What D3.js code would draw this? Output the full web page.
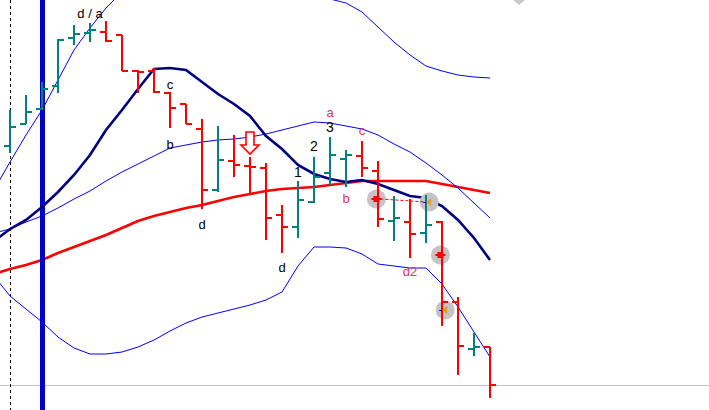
<!DOCTYPE html>
<html><head><meta charset="utf-8">
<script src="https://cdn.jsdelivr.net/npm/d3@7"></script>
<style>html,body{margin:0;padding:0;background:#fff;overflow:hidden}svg{display:block}</style>
</head><body>
<svg id="chart" width="709" height="410"></svg>
<script>
// ---- bar data (index 0..30) ----
const barIndex = d3.range(0, 31);
const opens  = [126.4,128.6,130.1,132.4,137.2,137.7,137.8,137.5,133.9,133.9,131.7,130.6,128.1,122.0,124.9,124.4,124.2,119.5,118.3,120.8,123.7,125.1,125.4,123.9,118.9,118.8,117.7,118.8,110.8,106.1,106.3];
const highs  = [130.0,131.5,132.8,137.1,138.5,138.7,138.9,137.5,134.0,134.2,131.8,130.6,129.1,128.4,127.5,125.3,124.7,120.5,122.9,125.3,127.3,126.0,126.9,124.9,121.4,121.1,121.5,118.9,111.3,107.7,106.3];
const lows   = [125.7,128.6,130.0,131.7,136.5,136.8,136.8,133.9,131.7,131.7,128.2,128.6,120.1,121.8,123.3,121.5,117.0,115.7,117.2,120.7,122.5,122.3,123.3,118.3,116.9,115.2,116.7,108.4,103.5,105.4,101.2];
const closes = [128.3,129.8,132.1,137.0,137.6,138.0,136.9,133.9,133.8,131.8,130.2,128.6,122.0,125.0,124.5,124.3,119.2,118.3,121.0,123.3,125.5,125.5,124.2,119.1,119.2,117.6,118.5,110.8,106.4,106.3,102.5];

// ---- indicator lines (index -1..30) ----
const lineIndex = d3.range(-1, 31);
const fastMA  = [116.9,118.1,119.0,120.3,121.8,123.5,125.5,128.0,130.0,132.1,134.1,134.2,134.0,132.8,131.6,130.6,129.4,127.4,126.1,124.5,123.6,123.1,122.8,123.0,122.6,122.0,121.4,121.2,120.4,119.0,117.2,115.0];
const slowMA  = [113.6,114.1,114.5,115.0,115.7,116.3,116.9,117.5,118.2,118.9,119.4,119.8,120.2,120.5,120.9,121.3,121.6,121.9,122.1,122.2,122.3,122.5,122.7,122.9,122.9,122.9,122.9,122.9,122.6,122.3,122.0,121.7];
const bandMid = [117.7,118.1,118.8,119.4,120.2,121.1,121.9,122.9,123.8,124.6,125.4,126.2,126.5,126.8,127.0,127.1,127.3,127.6,128.0,128.4,128.8,128.7,128.4,128.1,127.5,126.6,125.8,124.7,123.5,122.2,120.7,119.2];
const bandUp  = [122.0,124.8,127.5,130.0,133.0,136.0,138.2,140.2,141.8,143.0,143.8,144.5,144.3,144.3,144.3,144.1,144.1,144.2,144.4,142.2,141.3,141.1,140.7,139.8,138.3,136.8,135.5,134.4,133.9,133.5,133.3,133.2];
const bandLow = [113.4,111.4,110.1,108.8,107.3,106.2,105.6,105.6,105.8,106.3,107.0,107.9,108.7,109.3,109.7,110.1,110.5,111.0,111.8,114.4,116.3,116.3,116.2,115.6,114.6,114.4,114.2,114.2,112.6,110.3,107.8,105.3];

// ---- annotations ----
const labelText  = ["d / a","c","b","d","d","1","2","3","a","c","b","d2"];
const labelIdx   = [5,10,10,12,17,18,19,20,20,22,21,25];
const labelPrice = [139.2,132.1,126.1,118.1,113.8,123.3,125.9,127.8,129.3,127.5,120.7,113.4];
const labelPink  = [false,false,false,false,false,false,false,false,true,true,true,true];
const levelPrices = [102.5];
const markerIdx   = [22.9,26.2,26.9,27.2];
const markerPrice = [121.1,120.8,115.5,110.0];
const markerKind  = ["cross","tri","cross","tri"];

const svg = d3.select("#chart");
const W = 709, H = 410;
const x = d3.scaleLinear().domain([0, 30]).range([10, 490]);
const y = d3.scaleLinear().domain([100, 141]).range([H, 0]);

const teal = "#008080", red = "#ff0000", pink = "#e8305c";

// grey level line
svg.selectAll(".lvl").data(levelPrices).join("line")
  .attr("x1", 0).attr("x2", W).attr("y1", d => Math.round(y(d)) + 0.5).attr("y2", d => Math.round(y(d)) + 0.5)
  .attr("stroke", "#c0c0c0").attr("stroke-width", 1);

// dashed vertical at first bar
svg.append("line").attr("x1", x(0) + 0.5).attr("x2", x(0) + 0.5).attr("y1", 0).attr("y2", H)
  .attr("stroke", "#000").attr("stroke-width", 1).attr("stroke-dasharray", "3,3");

const line = arr => d3.line().x((d, i) => x(lineIndex[i])).y(d => y(d))(arr);

// slow MA (red)
svg.append("path").attr("d", line(slowMA)).attr("fill", "none").attr("stroke", red).attr("stroke-width", 2.6);

// thick blue vertical
svg.append("line").attr("x1", x(2) + 0.5).attr("x2", x(2) + 0.5).attr("y1", 0).attr("y2", H)
  .attr("stroke", "#0000cc").attr("stroke-width", 5);

// bands
[bandUp, bandMid, bandLow].forEach(b => {
  svg.append("path").attr("d", line(b)).attr("fill", "none").attr("stroke", "#0000ff").attr("stroke-width", 1);
});

// fast MA (navy)
svg.append("path").attr("d", line(fastMA)).attr("fill", "none").attr("stroke", "#000080").attr("stroke-width", 2.6);

// gray circles
svg.selectAll(".mk").data(markerIdx).join("circle")
  .attr("cx", d => x(d)).attr("cy", (d, i) => y(markerPrice[i])).attr("r", 9.5).attr("fill", "#c4c4c4");

// dashed red connector between first two markers
svg.append("line").attr("x1", x(markerIdx[0]) + 4).attr("y1", y(markerPrice[0]))
  .attr("x2", x(markerIdx[1]) - 3).attr("y2", y(markerPrice[1]))
  .attr("stroke", red).attr("stroke-width", 1).attr("stroke-dasharray", "3,2");

// OHLC bars
const bars = svg.append("g");
barIndex.forEach(i => {
  const c = closes[i] >= opens[i] ? teal : red;
  const cx = x(i);
  bars.append("line").attr("x1", cx).attr("x2", cx).attr("y1", y(highs[i])).attr("y2", y(lows[i]))
    .attr("stroke", c).attr("stroke-width", 2);
  bars.append("line").attr("x1", cx - 6).attr("x2", cx).attr("y1", Math.round(y(opens[i]))).attr("y2", Math.round(y(opens[i])))
    .attr("stroke", c).attr("stroke-width", 2);
  bars.append("line").attr("x1", cx).attr("x2", cx + 6).attr("y1", Math.round(y(closes[i]))).attr("y2", Math.round(y(closes[i])))
    .attr("stroke", c).attr("stroke-width", 2);
});

// marker glyphs
markerIdx.forEach((m, i) => {
  const cx = x(m), cy = y(markerPrice[i]);
  if (markerKind[i] === "cross") {
    svg.append("rect").attr("x", cx - 3).attr("y", cy - 3).attr("width", 6).attr("height", 6).attr("fill", red);
    svg.append("line").attr("x1", cx - 5).attr("x2", cx + 5).attr("y1", cy).attr("y2", cy).attr("stroke", red).attr("stroke-width", 2);
  } else {
    svg.append("line").attr("x1", cx - 6).attr("x2", cx - 3).attr("y1", cy + 0.5).attr("y2", cy + 0.5).attr("stroke", "#0000ff").attr("stroke-width", 1);
    svg.append("path").attr("d", `M${cx - 3},${cy} L${cx + 2},${cy - 4} L${cx + 2},${cy + 4} Z`).attr("fill", "#e0a020");
  }
});

// hollow down arrow above bar 15
(function(){
  const ax = x(15), ay = y(127.8);
  const p = `M${ax-4},${ay} L${ax+4},${ay} L${ax+4},${ay+13} L${ax+9},${ay+13} L${ax},${ay+22} L${ax-9},${ay+13} L${ax-4},${ay+13} Z`;
  svg.append("path").attr("d", p).attr("fill", "#fff").attr("stroke", red).attr("stroke-width", 1.6);
})();

// labels
svg.selectAll(".lab").data(labelText).join("text")
  .attr("x", (d, i) => x(labelIdx[i])).attr("y", (d, i) => y(labelPrice[i]))
  .attr("text-anchor", "middle")
  .attr("font-family", "Liberation Sans, Arial, sans-serif")
  .attr("font-size", d => /^[0-9]$/.test(d) ? 14 : 13)
  .attr("fill", (d, i) => labelPink[i] ? pink : "#000")
  .text(d => d);

// small grey marker at top edge
svg.append("path").attr("d", "M513,0 L525,0 L519,5 Z").attr("fill", "#c8c8c8");
</script>
</body></html>
